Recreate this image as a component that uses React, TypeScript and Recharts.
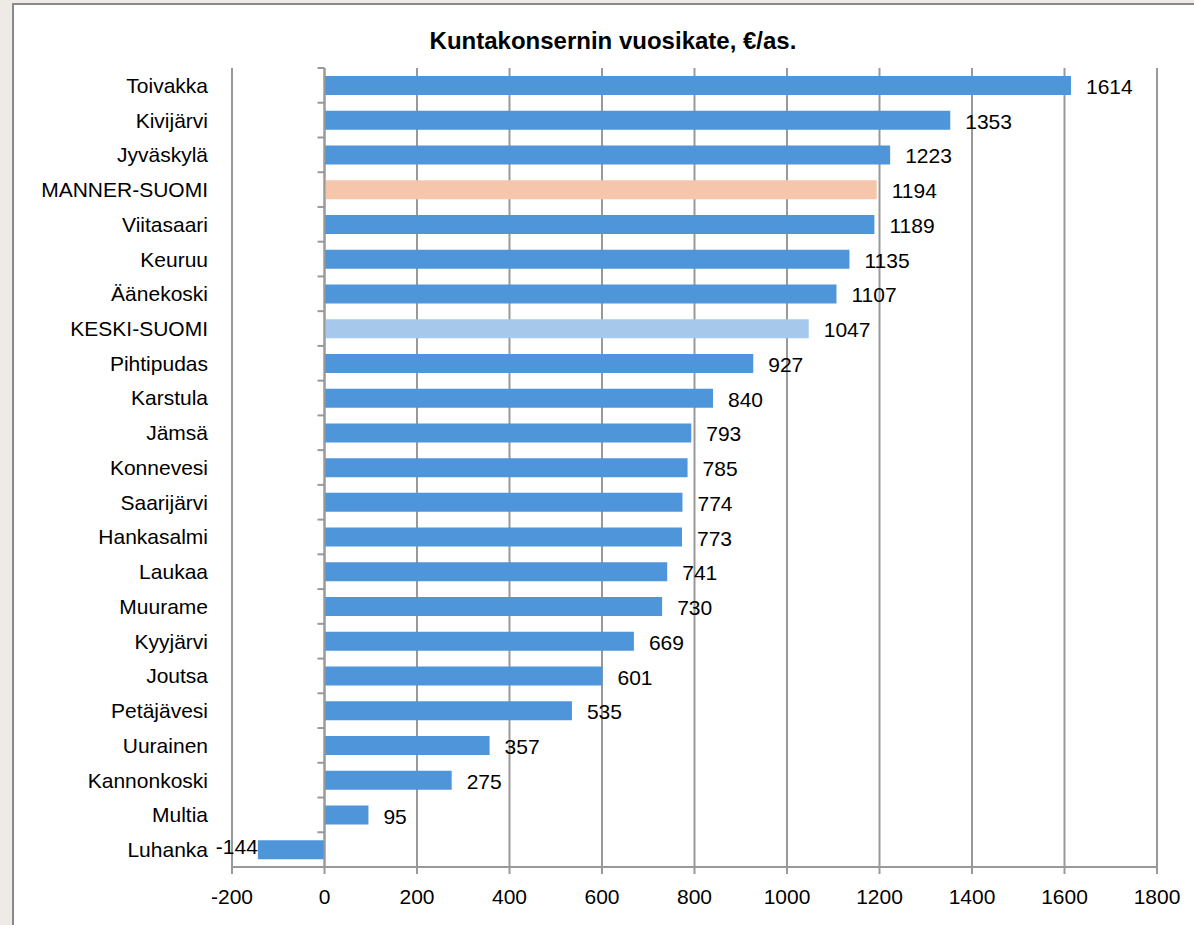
import React from 'react';
import { BarChart, Bar, XAxis, YAxis, CartesianGrid, Cell, LabelList, ReferenceLine } from 'recharts';

const categories = ['Toivakka', 'Kivijärvi', 'Jyväskylä', 'MANNER-SUOMI', 'Viitasaari', 'Keuruu', 'Äänekoski', 'KESKI-SUOMI', 'Pihtipudas', 'Karstula', 'Jämsä', 'Konnevesi', 'Saarijärvi', 'Hankasalmi', 'Laukaa', 'Muurame', 'Kyyjärvi', 'Joutsa', 'Petäjävesi', 'Uurainen', 'Kannonkoski', 'Multia', 'Luhanka'];
const values = [1614, 1353, 1223, 1194, 1189, 1135, 1107, 1047, 927, 840, 793, 785, 774, 773, 741, 730, 669, 601, 535, 357, 275, 95, -144];
const xTicks = [-200, 0, 200, 400, 600, 800, 1000, 1200, 1400, 1600, 1800];
const title = 'Kuntakonsernin vuosikate, €/as.';

const BLUE = '#4f95d9';
const PEACH = '#f5c6ab';
const LIGHT = '#a6c9eb';
const GRID = '#999999';

const data = categories.map((name, i) => ({ name, value: values[i] }));

const colorFor = (name: string) => (name === 'MANNER-SUOMI' ? PEACH : name === 'KESKI-SUOMI' ? LIGHT : BLUE);

const FONT = '"Liberation Sans", Arial, sans-serif';

const ValueLabel = (props: any) => {
  const { x, y, width, height, value } = props;
  const left = Math.min(x, x + width);
  const right = Math.max(x, x + width);
  const cy = y + height / 2;
  if (value < 0) {
    return (
      <text x={left} y={cy - 3} textAnchor="end" dominantBaseline="central" fontSize={21} fontFamily={FONT} fill="#000">
        {value}
      </text>
    );
  }
  return (
    <text x={right + 15} y={cy + 1} textAnchor="start" dominantBaseline="central" fontSize={21} fontFamily={FONT} fill="#000">
      {value}
    </text>
  );
};

const ZeroAxis = (props: any) => {
  const { x1, y1, x2, y2 } = props;
  const n = categories.length;
  const top = Math.min(y1, y2);
  const bottom = Math.max(y1, y2);
  const step = (bottom - top) / n;
  const ticks = [];
  for (let i = 0; i < n; i++) {
    const ty = top + i * step;
    ticks.push(<line key={i} x1={x1 - 7} x2={x1} y1={ty} y2={ty} stroke={GRID} strokeWidth={2} />);
  }
  return (
    <g>
      <line x1={x1} y1={y1} x2={x2} y2={y2} stroke={GRID} strokeWidth={2} />
      {ticks}
    </g>
  );
};

export default function App() {
  return (
    <div style={{ position: 'absolute', left: 0, top: 0, width: 1194, height: 925, background: '#eeebe6', overflow: 'hidden' }}>
      <div
        style={{
          position: 'absolute',
          left: 12,
          top: 3,
          right: 0,
          bottom: 0,
          background: '#ffffff',
          borderLeft: '2px solid #8a8a8a',
          borderTop: '2px solid #8a8a8a',
        }}
      />
      <div
        style={{
          position: 'absolute',
          left: 313,
          top: 26,
          width: 600,
          textAlign: 'center',
          fontFamily: FONT,
          fontWeight: 'bold',
          fontSize: 24,
          color: '#000',
          lineHeight: '30px',
        }}
      >
        {title}
      </div>
      <div style={{ position: 'absolute', left: 0, top: 0 }}>
        <BarChart
          width={1194}
          height={925}
          data={data}
          layout="vertical"
          margin={{ top: 68, right: 37, bottom: 13, left: 12 }}
          barSize={19}
        >
          <CartesianGrid horizontal={false} vertical={true} stroke={GRID} strokeWidth={2} />
          <XAxis
            type="number"
            domain={[-200, 1800]}
            ticks={xTicks}
            interval={0}
            stroke={GRID}
            strokeWidth={2}
            tickSize={7}
            tickMargin={15}
            height={45}
            tick={{ fontSize: 21, fill: '#000', fontFamily: FONT }}
          />
          <YAxis
            type="category"
            dataKey="name"
            width={220}
            axisLine={false}
            tickLine={false}
            tickMargin={18}
            interval={0}
            tick={{ fontSize: 21, fill: '#000', fontFamily: FONT }}
          />
          <Bar dataKey="value" isAnimationActive={false}>
            {data.map((d) => (
              <Cell key={d.name} fill={colorFor(d.name)} />
            ))}
            <LabelList dataKey="value" content={ValueLabel} />
          </Bar>
          <ReferenceLine x={0} shape={ZeroAxis} />
        </BarChart>
      </div>
    </div>
  );
}
